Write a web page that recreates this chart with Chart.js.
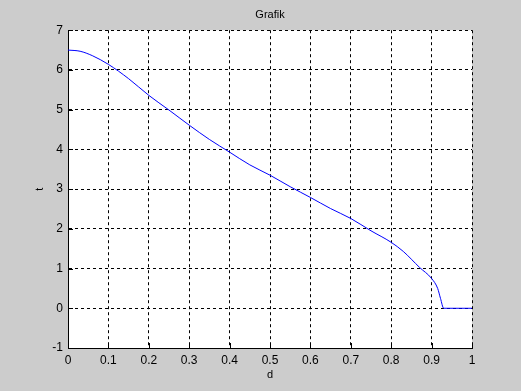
<!DOCTYPE html>
<html>
<head>
<meta charset="utf-8">
<script src="https://cdn.jsdelivr.net/npm/chart.js@4/dist/chart.umd.min.js"></script>
<style>
  html, body { margin: 0; padding: 0; background: #cccccc; }
  #wrap { width: 521px; height: 391px; }
</style>
</head>
<body>
<div id="wrap"><canvas id="grafik" width="521" height="391"></canvas></div>
<script>
/* ===== DATA ===== */

// d values (x)
const dValues = [0, 0.03, 0.06, 0.1, 0.15, 0.2, 0.25, 0.3, 0.35, 0.4, 0.45, 0.5,
  0.55, 0.6, 0.65, 0.7, 0.75, 0.8, 0.83, 0.87, 0.9, 0.915, 0.922, 0.93, 1];
// t values (y)
const tValues = [6.5, 6.47, 6.36, 6.14, 5.78, 5.36, 4.99, 4.61, 4.25, 3.93, 3.61, 3.35,
  3.06, 2.79, 2.51, 2.26, 1.95, 1.66, 1.43, 1.03, 0.75, 0.5, 0.25, 0, 0];

const xRange = [0, 1, 0.1];
const yRange = [-1, 7, 1];

const FONT = '"Liberation Sans", Arial, sans-serif';

// MATLAB style inward tick marks on bottom and left axes
const inwardTicks = {
  id: 'inwardTicks',
  afterDatasetsDraw(chart) {
    const { ctx, scales: { x, y }, chartArea: a } = chart;
    ctx.save();
    ctx.strokeStyle = '#000';
    ctx.lineWidth = 1;
    ctx.beginPath();
    x.ticks.forEach(t => {
      const px = Math.round(x.getPixelForValue(t.value)) + 0.5;
      ctx.moveTo(px, a.bottom);
      ctx.lineTo(px, a.bottom - 5);
    });
    y.ticks.forEach(t => {
      const py = Math.round(y.getPixelForValue(t.value)) + 0.5;
      ctx.moveTo(a.left, py);
      ctx.lineTo(a.left + 5, py);
    });
    ctx.stroke();
    ctx.restore();
  }
};

const plotBg = {
  id: 'plotBg',
  beforeDraw(chart) {
    const { ctx, chartArea: a } = chart;
    ctx.save();
    ctx.fillStyle = '#cccccc';
    ctx.fillRect(0, 0, chart.width, chart.height);
    ctx.fillStyle = '#ffffff';
    ctx.fillRect(a.left, a.top, a.right - a.left, a.bottom - a.top);
    ctx.restore();
  }
};

new Chart(document.getElementById('grafik'), {
  type: 'scatter',
  data: {
    datasets: [{
      label: 't',
      data: dValues.map((d, i) => ({ x: d, y: tValues[i] })),
      showLine: true,
      borderColor: '#0000ff',
      borderWidth: 1,
      pointRadius: 0,
      cubicInterpolationMode: 'monotone',
    }]
  },
  options: {
    responsive: false,
    animation: false,
    layout: { padding: { right: 49, left: 0, bottom: 0, top: 0 } },
    plugins: {
      legend: { display: false },
      tooltip: { enabled: false },
      title: {
        display: true,
        text: 'Grafik',
        fullSize: false,
        color: '#000',
        font: { family: FONT, size: 11, weight: 'normal', lineHeight: 1.2 },
        padding: { top: 8, bottom: 9 }
      }
    },
    scales: {
      x: {
        type: 'linear',
        min: xRange[0], max: xRange[1],
        afterFit(scale) { scale.height = 43; },
        grid: { color: '#000', lineWidth: 1, drawTicks: false },
        border: { display: true, color: '#000', width: 1, dash: [3, 3] },
        ticks: {
          stepSize: xRange[2],
          color: '#000',
          padding: 5,
          maxRotation: 0,
          font: { family: FONT, size: 12 },
          callback(v) { return Math.round(v * 10) / 10; }
        },
        title: {
          display: true,
          text: 'd',
          color: '#000',
          font: { family: FONT, size: 11, lineHeight: 1.2 },
          padding: { top: 0, bottom: 9 }
        }
      },
      y: {
        type: 'linear',
        min: yRange[0], max: yRange[1],
        afterFit(scale) { scale.width = 68; },
        grid: { color: '#000', lineWidth: 1, drawTicks: false },
        border: { display: true, color: '#000', width: 1, dash: [3, 3] },
        ticks: {
          stepSize: yRange[2],
          color: '#000',
          padding: 5,
          font: { family: FONT, size: 12 }
        },
        title: {
          display: true,
          text: 't',
          color: '#000',
          font: { family: FONT, size: 11, lineHeight: 1.2 },
          padding: { top: 33, bottom: 0 }
        }
      }
    }
  },
  plugins: [plotBg, inwardTicks]
});
</script>
</body>
</html>
